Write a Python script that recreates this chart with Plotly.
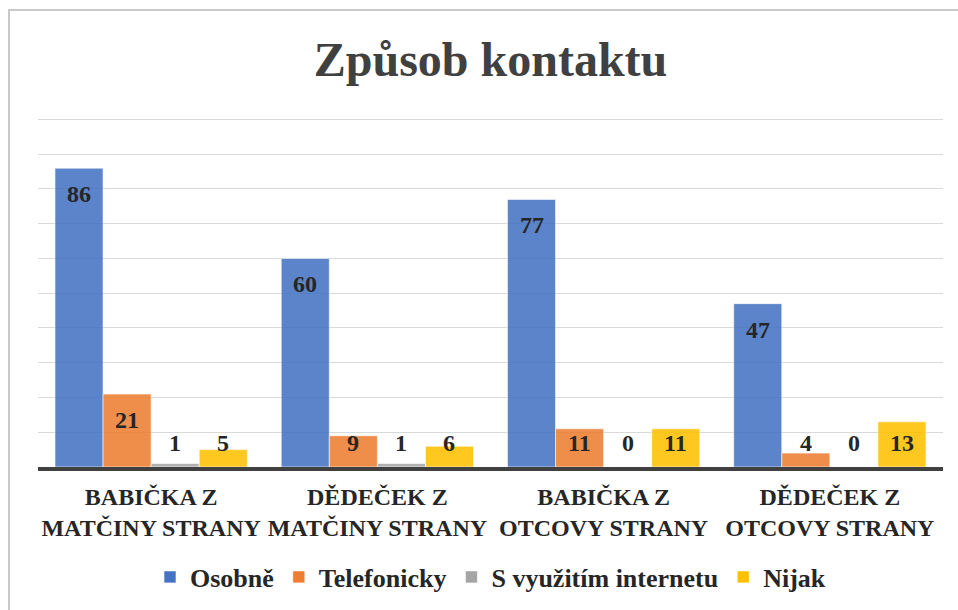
import plotly.graph_objects as go

# data
categories = [
    "BABIČKA Z<br>MATČINY STRANY",
    "DĚDEČEK Z<br>MATČINY STRANY",
    "BABIČKA Z<br>OTCOVY STRANY",
    "DĚDEČEK Z<br>OTCOVY STRANY",
]
series_names = ["Osobně", "Telefonicky", "S využitím internetu", "Nijak"]
osobne = [86, 60, 77, 47]
telefonicky = [21, 9, 11, 4]
internet = [1, 1, 0, 0]
nijak = [5, 6, 11, 13]
colors = ["#4472C4", "#ED7D31", "#A5A5A5", "#FFC000"]

FONT = "Liberation Serif"
W, H = 958, 610
BARGAP = 0.15
PX_PER_UNIT = 3.48          # 0..100 spans 348 px in the reference
RANGE_TOP = 101             # a little headroom so the 100 gridline is drawn
MARGIN = dict(l=38, r=15, b=143)
MARGIN["t"] = round(H - MARGIN["b"] - RANGE_TOP * PX_PER_UNIT)

fig = go.Figure()
all_values = [osobne, telefonicky, internet, nijak]
for name, vals, col in zip(series_names, all_values, colors):
    fig.add_trace(
        go.Bar(
            name=name,
            x=categories,
            y=vals,
            marker=dict(color=col, opacity=0.87, line=dict(color="rgba(255,255,255,0.6)", width=1)),
            hoverinfo="skip",
        )
    )

# Excel-style "inside end" labels: sit a bit under the bar top, but never
# lower than a fixed floor above the baseline (short bars)
plot_w = W - MARGIN["l"] - MARGIN["r"]
plot_h = H - MARGIN["t"] - MARGIN["b"]
px_per_unit = plot_h / RANGE_TOP
bar_w = plot_w / len(categories) * (1 - BARGAP) / len(series_names)
for i, vals in enumerate(all_values):
    shift = (i - (len(series_names) - 1) / 2) * bar_w
    for cat, v in zip(categories, vals):
        y = max(v - 26 / px_per_unit, 24 / px_per_unit)
        fig.add_annotation(
            x=cat, y=y, xref="x", yref="y", text=str(v), showarrow=False,
            xshift=shift, yanchor="middle",
            font=dict(family=FONT, size=24, color="#262626", weight="bold"),
        )

# chart frame (light grey border like the office chart area)
fig.add_shape(
    type="rect", xref="paper", yref="paper",
    x0=-(MARGIN["l"] - 9) / plot_w, x1=1 + 40 / plot_w,
    y0=-200 / plot_h, y1=1 + (MARGIN["t"] - 10) / plot_h,
    line=dict(color="#c9c9c9", width=2), fillcolor="rgba(0,0,0,0)", layer="below",
)

fig.update_layout(
    width=W, height=H,
    margin=MARGIN,
    barmode="group",
    bargap=BARGAP,
    bargroupgap=0,
    plot_bgcolor="white",
    paper_bgcolor="white",
    title=dict(
        text="Způsob kontaktu", x=0.5, xref="paper", xanchor="center",
        y=1 - 59 / H, yanchor="middle",
        font=dict(family=FONT, size=48, color="#404040", weight="bold"),
    ),
    legend=dict(
        orientation="h", x=0.5, xanchor="center", xref="paper",
        y=1 - 577 / H, yref="container", yanchor="middle",
        font=dict(family=FONT, size=26, color="#262626", weight="bold"),
        traceorder="normal", itemclick=False,
    ),
    showlegend=True,
)
fig.update_xaxes(
    showline=True, linecolor="#404040", linewidth=4, automargin=False,
    tickfont=dict(family=FONT, size=24, color="#262626", weight="bold"),
    ticks="", showgrid=False, ticklabelstandoff=5,
)
fig.update_yaxes(
    range=[0, RANGE_TOP], dtick=10, showgrid=True, gridcolor="#d9d9d9", gridwidth=1,
    showticklabels=False, zeroline=False, automargin=False,
)

fig.write_html(
    "out.html",
    config={"displayModeBar": False},
    post_script="document.body.style.margin='0';",
)
